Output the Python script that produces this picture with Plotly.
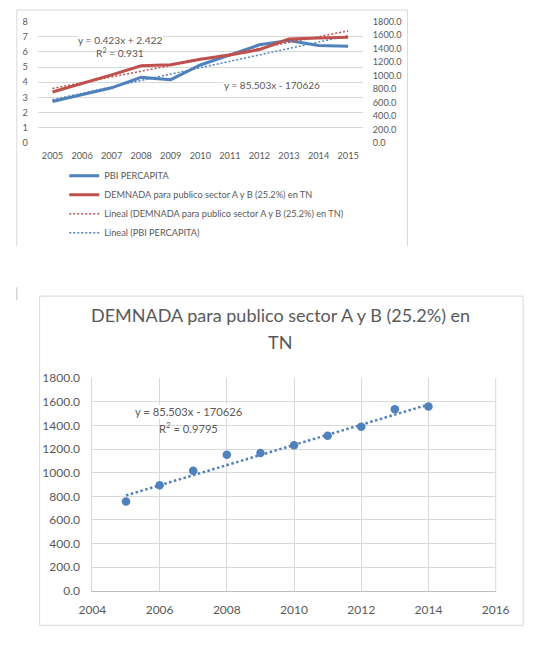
import plotly.graph_objects as go

# ---------------- data ----------------
years_top = [2005, 2006, 2007, 2008, 2009, 2010, 2011, 2012, 2013, 2014, 2015]
pbi_percapita = [2.73, 3.20, 3.63, 4.32, 4.17, 5.14, 5.79, 6.47, 6.75, 6.43, 6.38]
demanda_top = [755, 880, 1010, 1145, 1160, 1240, 1305, 1385, 1543, 1557, 1567]

years_bottom = [2005, 2006, 2007, 2008, 2009, 2010, 2011, 2012, 2013, 2014]
demanda_bottom = [756, 893, 1017, 1152, 1166, 1232, 1312, 1389, 1538, 1560]

# trend line coefficients as displayed on the chart
pbi_slope, pbi_intercept = 0.423, 2.422          # x = 1..n (category index)
dem_slope, dem_intercept = 85.503, -170626       # x = year

left_ticks = [0, 1, 2, 3, 4, 5, 6, 7, 8]
right_ticks = [0, 200, 400, 600, 800, 1000, 1200, 1400, 1600, 1800]
bottom_xticks = [2004, 2006, 2008, 2010, 2012, 2014, 2016]

name_pbi = "PBI PERCAPITA"
name_dem = "DEMNADA para publico sector A y B (25.2%) en TN"
name_dem_trend = "Lineal (DEMNADA para publico sector A y B (25.2%) en TN)"
name_pbi_trend = "Lineal (PBI PERCAPITA)"
title_line1 = "DEMNADA para publico sector A y B (25.2%) en"
title_line2 = "TN"

# ---------------- styling ----------------
W, H = 540, 645
BLUE = "#4F81BD"
RED = "#C0504D"
GRID = "#D9D9D9"
TXT = "#595959"
NOTICK = "rgba(0,0,0,0)"
FONT = "Lato, Liberation Sans, sans-serif"

def px(x):
    return x / W

def py(y):
    return 1 - y / H

# computed trend endpoints
pbi_trend_x = [years_top[0], years_top[-1]]
pbi_trend_y = [pbi_slope * 1 + pbi_intercept, pbi_slope * len(years_top) + pbi_intercept]
dem_trend_top_y = [dem_slope * x + dem_intercept for x in pbi_trend_x]
dem_trend_bot_x = [years_bottom[0], years_bottom[-1]]
dem_trend_bot_y = [dem_slope * x + dem_intercept for x in dem_trend_bot_x]

fig = go.Figure()

fig.add_trace(go.Scatter(x=years_top, y=pbi_percapita, name=name_pbi, mode="lines",
                         line=dict(color=BLUE, width=3), xaxis="x", yaxis="y"))
fig.add_trace(go.Scatter(x=years_top, y=demanda_top, name=name_dem, mode="lines",
                         line=dict(color=RED, width=3), xaxis="x", yaxis="y2"))
fig.add_trace(go.Scatter(x=pbi_trend_x, y=dem_trend_top_y, name=name_dem_trend, mode="lines",
                         line=dict(color=RED, width=1.5, dash="2px,2px"), xaxis="x", yaxis="y2"))
fig.add_trace(go.Scatter(x=pbi_trend_x, y=pbi_trend_y, name=name_pbi_trend, mode="lines",
                         line=dict(color=BLUE, width=1.5, dash="2px,2px"), xaxis="x", yaxis="y"))

# bottom chart
fig.add_trace(go.Scatter(x=dem_trend_bot_x, y=dem_trend_bot_y, mode="lines", showlegend=False,
                         line=dict(color=BLUE, width=2.5, dash="2.5px,2.5px"), xaxis="x3", yaxis="y3"))
fig.add_trace(go.Scatter(x=years_bottom, y=demanda_bottom, mode="markers", showlegend=False,
                         marker=dict(color=BLUE, size=8.5), xaxis="x3", yaxis="y3"))

top_x0, top_x1, top_y0, top_y1 = 25, 368, 14, 138
bot_x0, bot_x1, bot_y0, bot_y1 = 82.7, 508, 379, 596.7

small = dict(family=FONT, size=9.2, color=TXT)
mid = dict(family=FONT, size=12, color=TXT)

fig.update_layout(
    width=W, height=H,
    margin=dict(l=0, r=0, t=0, b=0),
    paper_bgcolor="white", plot_bgcolor="white",
    font=dict(family=FONT, color=TXT),
    xaxis=dict(domain=[px(top_x0), px(top_x1)], anchor="y", range=[2004.5, 2015.5],
               tickvals=years_top, ticktext=[str(y) for y in years_top], showgrid=False,
               zeroline=False, showline=False, ticks="outside", ticklen=4, tickcolor=NOTICK,
               tickfont=small),
    yaxis=dict(domain=[py(top_y1), py(top_y0)], anchor="x", range=[0, 8], tickvals=left_ticks,
               showgrid=True, gridcolor=GRID, gridwidth=1, zeroline=False, showline=False,
               ticks="outside", ticklen=7, tickcolor=NOTICK, tickfont=small),
    yaxis2=dict(overlaying="y", side="right", anchor="x", range=[0, 1800], tickvals=right_ticks,
                tickformat=".1f", showgrid=False, zeroline=False, showline=False,
                ticks="outside", ticklen=7, tickcolor=NOTICK, tickfont=small),
    xaxis3=dict(domain=[px(bot_x0), px(bot_x1)], anchor="y3", range=[2004, 2016],
                tickvals=bottom_xticks, showgrid=True, gridcolor=GRID, zeroline=False,
                showline=True, linecolor="#BFBFBF", ticks="outside", ticklen=8, tickcolor=NOTICK,
                tickfont=mid),
    yaxis3=dict(domain=[py(bot_y1), py(bot_y0)], anchor="x3", range=[0, 1800], tickvals=right_ticks,
                tickformat=".1f", showgrid=True, gridcolor=GRID, zeroline=False, showline=True,
                linecolor=GRID, ticks="outside", ticklen=9, tickcolor=NOTICK, tickfont=mid),
    legend=dict(x=px(53), y=py(157), xanchor="left", yanchor="top", orientation="v",
                font=dict(family=FONT, size=9.2, color=TXT), bgcolor="rgba(0,0,0,0)",
                traceorder="normal", itemwidth=30, tracegroupgap=0),
    showlegend=True,
)

# borders of the two chart boxes
shapes = []
for (x0, y0, x1, y1) in [(3, 2, 3, 244), (3, 2, 415, 2), (415, 2, 415, 244)]:
    shapes.append(dict(type="line", xref="paper", yref="paper", x0=px(x0), y0=py(y0),
                       x1=px(x1), y1=py(y1), line=dict(color=GRID, width=1)))
shapes.append(dict(type="rect", xref="paper", yref="paper", x0=px(27), y0=py(632),
                   x1=px(537), y1=py(295), line=dict(color=GRID, width=1)))
shapes.append(dict(type="line", xref="paper", yref="paper", x0=px(3), y0=py(286),
                   x1=px(3), y1=py(299), line=dict(color="#BFBFBF", width=1)))
shapes.append(dict(type="line", xref="paper", yref="paper", x0=px(bot_x1), y0=py(bot_y1),
                   x1=px(bot_x1), y1=py(bot_y0), line=dict(color=GRID, width=1)))
fig.update_layout(shapes=shapes)

ann = []
def add_text(text, x, y, font, bg=None):
    d = dict(text=text, x=px(x), y=py(y), xref="paper", yref="paper", showarrow=False,
             xanchor="center", yanchor="middle", font=font, borderpad=0)
    if bg:
        d["bgcolor"] = bg
    ann.append(d)

add_text("y = 0.423x + 2.422", 112, 33, dict(family=FONT, size=10.2, color=TXT), "white")
add_text("R<sup>2</sup> = 0.931", 112, 46, dict(family=FONT, size=10.2, color=TXT))
add_text("y = 85.503x - 170626", 272, 79, dict(family=FONT, size=10, color=TXT), "white")
add_text("y = 85.503x - 170626", 184, 413, dict(family=FONT, size=11.2, color=TXT), "white")
add_text("R<sup>2</sup> = 0.9795", 184, 429, dict(family=FONT, size=11.2, color=TXT))
add_text(title_line1, 281, 314, dict(family=FONT, size=18, color=TXT))
add_text(title_line2, 281, 342, dict(family=FONT, size=18, color=TXT))
fig.update_layout(annotations=ann)

fig.write_html(
    "out.html",
    post_script=("document.body.style.margin='0';document.body.style.padding='0';"
                 "document.documentElement.style.margin='0';"),
)
